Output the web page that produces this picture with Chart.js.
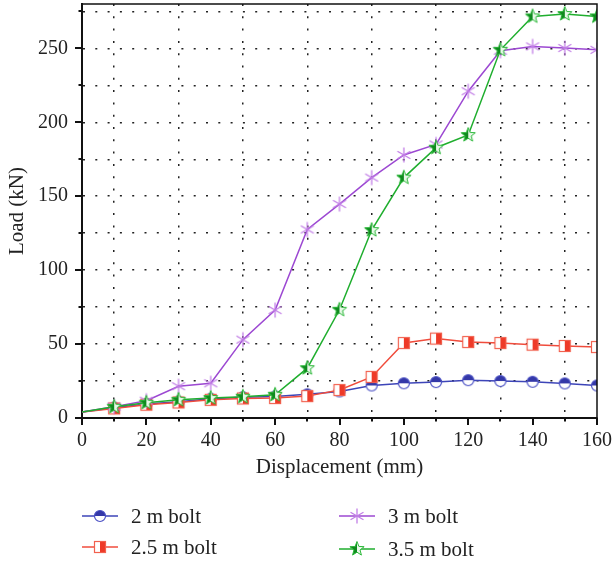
<!DOCTYPE html>
<html>
<head>
<meta charset="utf-8">
<script src="https://cdn.jsdelivr.net/npm/chart.js@4.4.1/dist/chart.umd.min.js"></script>
<style>
  html, body { margin: 0; padding: 0; background: #fff; }
</style>
</head>
<body>
<canvas id="loadChart" width="612" height="563"></canvas>
<script>
// displacement (mm) and load (kN)
const displacement = [0, 10, 20, 30, 40, 50, 60, 70, 80, 90, 100, 110, 120, 130, 140, 150, 160];
const bolt2  = [4, 7, 9.5, 11, 13, 14, 14.5, 16, 18, 22, 23.5, 24.3, 25.6, 25, 24.5, 23.4, 22];
const bolt25 = [4, 6.5, 9, 10.5, 12.3, 13.2, 13.5, 14.8, 18.9, 27.8, 50.7, 53.7, 51.4, 50.7, 49.6, 48.7, 48];
const bolt3  = [4, 7.7, 11.7, 21.5, 23.5, 53, 73, 127.5, 144.7, 162.6, 177.9, 185, 221, 248.4, 251.3, 250.2, 249];
const bolt35 = [4, 7.6, 10.3, 12.3, 13.5, 14.4, 15.7, 33.7, 73.2, 127.1, 162.6, 182.8, 191.4, 249, 271.6, 273.2, 271.6];

const seriesNames = ["2 m bolt", "2.5 m bolt", "3 m bolt", "3.5 m bolt"];
const lineColors = ["#3d45b8", "#f04c3c", "#9c48d2", "#1fae2e"];

const serif = "'Liberation Serif', serif";

function marker(size, draw) {
  const c = document.createElement("canvas");
  c.width = size; c.height = size;
  const g = c.getContext("2d");
  g.translate(size / 2, size / 2);
  draw(g);
  return c;
}

const halfCircle = marker(16, g => {
  g.beginPath(); g.arc(0, 0, 5.5, 0, Math.PI * 2);
  g.fillStyle = "#fff"; g.fill();
  g.beginPath(); g.arc(0, 0, 5.5, Math.PI, Math.PI * 2); g.closePath();
  g.fillStyle = "#3438a8"; g.fill();
  g.beginPath(); g.arc(0, 0, 5.5, 0, Math.PI * 2);
  g.strokeStyle = "#4a50c4"; g.lineWidth = 1.2; g.stroke();
});

const halfSquare = marker(16, g => {
  g.fillStyle = "#fff"; g.fillRect(-5.5, -5.5, 11, 11);
  g.fillStyle = "#ee3a28"; g.fillRect(0, -5.5, 5.5, 11);
  g.strokeStyle = "#f2604e"; g.lineWidth = 1.2; g.strokeRect(-5.5, -5.5, 11, 11);
});

const asterisk = marker(18, g => {
  g.strokeStyle = "#c27ee6"; g.lineWidth = 1.3;
  [90, 30, 150].forEach(deg => {
    const r = deg * Math.PI / 180;
    g.beginPath();
    g.moveTo(-7.5 * Math.cos(r), -7.5 * Math.sin(r));
    g.lineTo(7.5 * Math.cos(r), 7.5 * Math.sin(r));
    g.stroke();
  });
});

const halfStar = marker(18, g => {
  const path = () => {
    g.beginPath();
    for (let i = 0; i < 10; i++) {
      const r = i % 2 === 0 ? 7.5 : 3.2;
      const a = -Math.PI / 2 + i * Math.PI / 5;
      g.lineTo(r * Math.cos(a), r * Math.sin(a));
    }
    g.closePath();
  };
  path(); g.fillStyle = "#e8f8e8"; g.fill();
  g.save(); g.beginPath(); g.rect(-9, -9, 9, 18); g.clip();
  path(); g.fillStyle = "#0f8a1e"; g.fill(); g.restore();
  path(); g.strokeStyle = "#2cb83a"; g.lineWidth = 1; g.stroke();
});

const markers = [halfCircle, halfSquare, asterisk, halfStar];
const values = [bolt2, bolt25, bolt3, bolt35];

const frameAndLegend = {
  id: "frameAndLegend",
  afterDraw(chart) {
    const { ctx, chartArea: a, scales: { x, y } } = chart;
    ctx.save();
    ctx.strokeStyle = "#111";
    ctx.lineWidth = 1.5;
    ctx.beginPath();
    ctx.moveTo(a.left, a.top);
    ctx.lineTo(a.right, a.top);
    ctx.lineTo(a.right, a.bottom);
    ctx.stroke();

    ctx.lineWidth = 2;
    ctx.beginPath();
    for (let v = 0; v <= 160; v += 10) {
      const px = Math.round(x.getPixelForValue(v));
      ctx.moveTo(px, a.bottom);
      ctx.lineTo(px, a.bottom + (v % 20 === 0 ? 7 : 3.5));
    }
    for (let v = 0; v <= 275; v += 25) {
      const py = Math.round(y.getPixelForValue(v));
      ctx.moveTo(a.left, py);
      ctx.lineTo(a.left - (v % 50 === 0 ? 7 : 3.5), py);
    }
    ctx.stroke();

    // legend, two columns
    const spots = [[82, 516], [82, 547], [339, 516], [339, 549]];
    ctx.font = "21px " + serif;
    ctx.textBaseline = "middle";
    ctx.fillStyle = "#222";
    seriesNames.forEach((name, i) => {
      const [lx, ly] = spots[i];
      ctx.strokeStyle = lineColors[i];
      ctx.lineWidth = 1.5;
      ctx.beginPath(); ctx.moveTo(lx, ly); ctx.lineTo(lx + 36, ly); ctx.stroke();
      const m = markers[i];
      ctx.drawImage(m, lx + 18 - m.width / 2, ly - m.height / 2);
      ctx.fillText(name, lx + 49, ly + 1);
    });
    ctx.restore();
  }
};

const gridColor = "#222";

new Chart(document.getElementById("loadChart"), {
  type: "line",
  data: {
    labels: displacement,
    datasets: seriesNames.map((name, i) => ({
      label: name,
      data: displacement.map((d, k) => ({ x: d, y: values[i][k] })),
      borderColor: lineColors[i],
      borderWidth: 1.5,
      pointStyle: markers[i],
      pointRadius: c => (c.dataIndex === 0 ? 0 : 6),
      pointHoverRadius: 6,
      order: 4 - i,
      tension: 0
    }))
  },
  options: {
    responsive: false,
    animation: false,
    layout: { autoPadding: false, padding: { top: 4, right: 15, left: 0, bottom: 0 } },
    plugins: { legend: { display: false }, tooltip: { enabled: false } },
    scales: {
      x: {
        type: "linear",
        min: 0,
        max: 160,
        afterFit: s => {
          s.height = 145;
          s.paddingLeft = 0; s.paddingRight = 0;
        },
        ticks: {
          stepSize: 10,
          autoSkip: false,
          maxRotation: 0,
          padding: 11,
          color: "#222",
          font: { family: serif, size: 20 },
          callback: v => (v % 20 === 0 ? v : "")
        },
        grid: {
          drawTicks: false,
          lineWidth: 1.5,
          color: c => (c.tick && c.tick.value % 20 !== 0 ? gridColor : "rgba(0,0,0,0)")
        },
        border: { color: "#111", width: 2, dash: [2, 10.3] },
        title: {
          display: true,
          text: "Displacement (mm)",
          color: "#222",
          font: { family: serif, size: 21 },
          padding: { top: 0, bottom: 83 }
        }
      },
      y: {
        min: 0,
        max: 280,
        afterFit: s => {
          s.width = 82;
          s.paddingTop = 0; s.paddingBottom = 0;
        },
        ticks: {
          stepSize: 25,
          includeBounds: false,
          autoSkip: false,
          padding: 14,
          color: "#222",
          font: { family: serif, size: 20 },
          callback: v => (v % 50 === 0 ? v : "")
        },
        grid: {
          drawTicks: false,
          lineWidth: 1.5,
          color: c => (c.tick && c.tick.value > 0 ? gridColor : "rgba(0,0,0,0)")
        },
        border: { color: "#111", width: 2, dash: [2, 10.3] },
        title: {
          display: true,
          text: "Load (kN)",
          color: "#222",
          font: { family: serif, size: 21 },
          padding: { top: 5, bottom: 0 }
        }
      }
    }
  },
  plugins: [frameAndLegend]
});
</script>
</body>
</html>
